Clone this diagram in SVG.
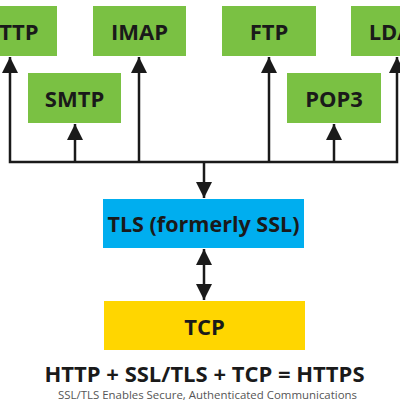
<svg xmlns="http://www.w3.org/2000/svg" width="400" height="400" viewBox="0 0 400 400">
<style>
.g{fill:#7ac143}
.lbl{font-family:"Open Sans","Noto Sans",sans-serif;font-weight:bold;font-size:22px;fill:#1a1a1a;text-anchor:middle}
.ln{stroke:#1a1a1a;stroke-width:2.5;fill:none}
</style>
<defs>
<marker id="ah" markerUnits="userSpaceOnUse" markerWidth="18" markerHeight="16" viewBox="0 0 18 16" refX="16" refY="8" orient="auto-start-reverse">
<path d="M0,0 L16,8 L0,16 Z" fill="#1a1a1a"/>
</marker>
</defs>
<rect width="400" height="400" fill="#fff"/>
<g id="HTTP"><rect class="g" x="-36" y="6" width="93" height="50"/><text class="lbl" x="10.5" y="40">HTTP</text></g>
<g id="IMAP"><rect class="g" x="93" y="6" width="93" height="50"/><text class="lbl" x="139.5" y="40">IMAP</text></g>
<g id="FTP"><rect class="g" x="222" y="6" width="94" height="50"/><text class="lbl" x="269" y="40">FTP</text></g>
<g id="LDAP"><rect class="g" x="351" y="6" width="93" height="50"/><text class="lbl" x="397.5" y="40">LDAP</text></g>
<g id="SMTP"><rect class="g" x="28" y="73" width="93" height="50"/><text class="lbl" x="74.5" y="107">SMTP</text></g>
<g id="POP3"><rect class="g" x="287" y="73" width="94" height="50"/><text class="lbl" x="334" y="107">POP3</text></g>
<g id="TLS"><rect x="103" y="199" width="201" height="49" fill="#00aeef"/><text class="lbl" x="203.5" y="232" textLength="192" lengthAdjust="spacingAndGlyphs">TLS (formerly SSL)</text></g>
<g id="TCP"><rect x="104" y="301" width="201" height="49" fill="#ffd600"/><text class="lbl" x="204.5" y="335">TCP</text></g>
<g id="connectors">
<polyline class="ln" points="10,57 10,162 397,162 397,57" marker-start="url(#ah)" marker-end="url(#ah)"/>
<line class="ln" x1="75" y1="162" x2="75" y2="124" marker-end="url(#ah)"/>
<line class="ln" x1="139" y1="162" x2="139" y2="57" marker-end="url(#ah)"/>
<line class="ln" x1="269" y1="162" x2="269" y2="57" marker-end="url(#ah)"/>
<line class="ln" x1="334" y1="162" x2="334" y2="124" marker-end="url(#ah)"/>
<line class="ln" x1="204" y1="162" x2="204" y2="198" marker-end="url(#ah)"/>
<line class="ln" x1="204" y1="249" x2="204" y2="300" marker-start="url(#ah)" marker-end="url(#ah)"/>
</g>
<text x="204.5" y="382" textLength="320" lengthAdjust="spacingAndGlyphs" style="font-family:'Open Sans','Noto Sans',sans-serif;font-weight:bold;font-size:22px;fill:#1a1a1a;text-anchor:middle">HTTP + SSL/TLS + TCP = HTTPS</text>
<text x="207.5" y="398.5" textLength="299" lengthAdjust="spacingAndGlyphs" style="font-family:'Open Sans','Noto Sans',sans-serif;font-size:10.5px;fill:#555;text-anchor:middle">SSL/TLS Enables Secure, Authenticated Communications</text>
</svg>
